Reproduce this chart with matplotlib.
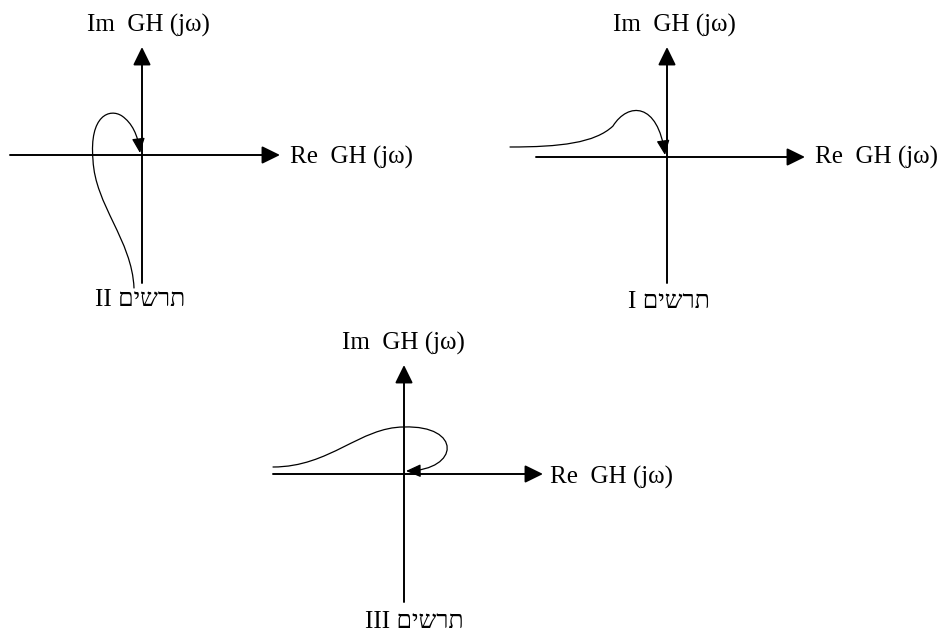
import matplotlib
matplotlib.use('Agg')
import matplotlib.pyplot as plt
from matplotlib.path import Path
from matplotlib.patches import FancyArrowPatch

plt.rcParams['font.family'] = ['Liberation Serif', 'DejaVu Serif']

# panel origins (pixel coords, y down) and axis extents
origins = {'I': (667, 157), 'II': (142, 155), 'III': (404, 474)}
x_left = {'I': 536, 'II': 10, 'III': 273}
x_right = {'I': 805, 'II': 280, 'III': 543}
y_top = {'I': 47, 'II': 47, 'III': 365}
y_bottom = {'I': 283, 'II': 283, 'III': 602}

# Nyquist curves as cubic Bezier points: start, then triples (c1, c2, end)
curve_I = [(510, 147), (560, 147), (595, 143), (613, 126),
           (628, 102), (658, 102), (665, 155)]
curve_II = [(134, 288), (132, 240), (95, 205), (93, 160),
            (89, 115), (110, 108), (122, 116),
            (132, 123), (138, 135), (140, 153)]
curve_III = [(273, 467), (330, 467), (360, 427), (404, 427),
             (462, 425), (460, 470), (406, 471)]

hebrew = 'תרשים'
# matplotlib has no bidi support, so Hebrew is written in visual order
titles = {'I': 'I ' + hebrew[::-1], 'II': 'II ' + hebrew[::-1], 'III': 'III ' + hebrew[::-1]}
title_pos = {'I': (669, 302), 'II': (140, 300), 'III': (414, 622)}
im_pos = {'I': (674, 25), 'II': (148, 25), 'III': (403, 343)}
re_pos = {'I': (815, 157), 'II': (290, 157), 'III': (550, 477)}

fig = plt.figure(figsize=(9.45, 6.33), dpi=100)
ax = fig.add_axes([0, 0, 1, 1])
ax.set_xlim(0, 945)
ax.set_ylim(633, 0)
ax.axis('off')

axis_style = '-|>,head_length=0.55,head_width=0.27'
for k in ['I', 'II', 'III']:
    ox, oy = origins[k]
    # horizontal axis
    ax.add_patch(FancyArrowPatch((x_left[k], oy), (x_right[k], oy), arrowstyle=axis_style,
                                 mutation_scale=20, color='black', lw=1.4, shrinkA=0, shrinkB=0))
    # vertical axis
    ax.add_patch(FancyArrowPatch((ox, y_bottom[k]), (ox, y_top[k]), arrowstyle=axis_style,
                                 mutation_scale=20, color='black', lw=1.4, shrinkA=0, shrinkB=0))
    ax.text(*im_pos[k], 'Im  GH (jω)', fontsize=18, ha='center', va='center')
    ax.text(*re_pos[k], 'Re  GH (jω)', fontsize=18, ha='left', va='center')
    ax.text(*title_pos[k], titles[k], fontsize=18, ha='center', va='center')

for pts in [curve_I, curve_II, curve_III]:
    codes = [Path.MOVETO] + [Path.CURVE4] * (len(pts) - 1)
    path = Path(pts, codes)
    ax.add_patch(FancyArrowPatch(path=path, arrowstyle='-|>,head_length=0.5,head_width=0.22',
                                 mutation_scale=18, color='black', lw=0.9))

fig.savefig('out.png', dpi=100)
